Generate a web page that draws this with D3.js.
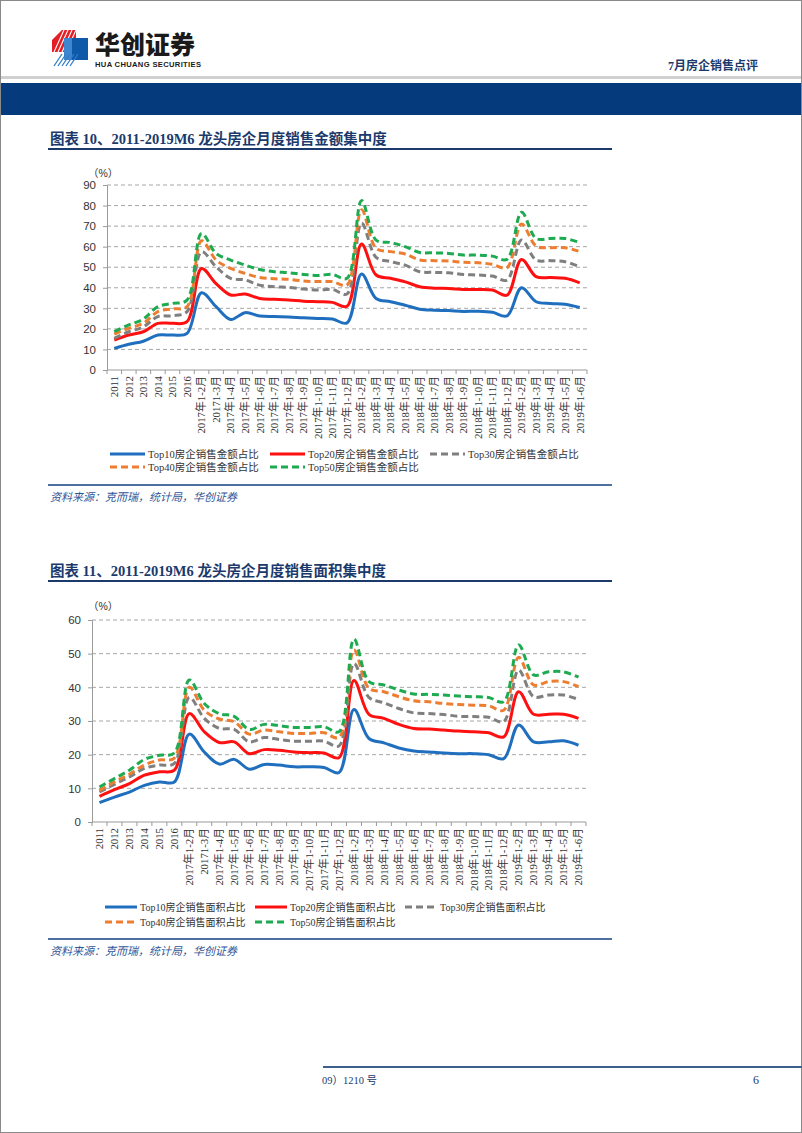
<!DOCTYPE html>
<html><head><meta charset="utf-8">
<script src="https://cdn.jsdelivr.net/npm/d3@7"></script>
<style>
html,body{margin:0;padding:0;background:#fff;}
svg{display:block;}
</style></head>
<body>
<svg id="page" width="802" height="1133"></svg>
<script>
// ---------- DATA ----------
const categories = ["2011","2012","2013","2014","2015","2016",
 "2017年1-2月","20171-3月","2017年1-4月","2017年1-5月","2017年1-6月","2017年1-7月","2017年1-8月","2017年1-9月","2017年1-10月","2017年1-11月","2017年1-12月",
 "2018年1-2月","2018年1-3月","2018年1-4月","2018年1-5月","2018年1-6月","2018年1-7月","2018年1-8月","2018年1-9月","2018年1-10月","2018年1-11月","2018年1-12月",
 "2019年1-2月","2019年1-3月","2019年1-4月","2019年1-5月","2019年1-6月"];

const amtTop10 = [10.5,12.5,14,17,17,17.8,37.6,30.8,24.6,27.9,26.3,26,25.8,25.4,25.1,24.8,22.9,46.7,34.8,33.2,31.5,29.6,29.1,28.9,28.5,28.6,28.1,26.3,40,33.2,32.4,32,30.4];
const amtTop20 = [14.6,17,18.6,22.7,22.7,23.5,49.4,42,36.5,37,34.8,34.4,34,33.5,33.2,32.9,31,61.3,46.2,44.6,42.9,40.5,39.8,39.7,39.2,39.2,38.9,36.4,53.8,45.4,45,44.6,42.4];
const amtTop30 = [15.4,18.6,21,26,26.4,28.4,57.5,50.2,44.6,43.8,41.3,40.5,40.2,39.4,38.9,39.2,37,71.4,54.8,52.7,51,47.8,47.5,47.3,46.5,46.2,45.7,43.7,63.2,53.5,53.2,52.7,50.2];
const amtTop40 = [17.5,20.3,22.7,28.4,29.7,30.8,62.9,53.5,49.4,47,45,44.4,44.1,43.3,43,43,41.3,77.9,59.2,57.6,56.4,53.5,53.2,53,52.4,52.2,51.4,49.8,71,60.3,59.5,59.5,57.6];
const amtTop50 = [18.7,21.9,24.8,30.8,32.4,34,66.4,56.7,53.5,51,48.9,47.8,47.3,46.5,46,46.5,44.6,82.4,63.2,62,60,57.2,57,56.7,55.9,55.9,55.4,53.8,76.7,64,64,64,62];

const areaTop10 = [5.75,7.4,8.9,10.9,11.9,11.9,26.1,20.8,17.2,18.6,15.7,17.1,16.9,16.4,16.4,16.2,14.7,33.4,24.8,23.5,22,21.1,20.8,20.5,20.3,20.3,20,18.8,28.8,23.8,23.8,24.1,22.8];
const areaTop20 = [7.6,9.6,11.4,13.9,14.9,15.4,32.2,26.8,23.6,23.8,20.3,21.5,21.3,20.8,20.6,20.5,19.1,42,32,30.8,29,27.8,27.6,27.3,27,26.8,26.5,25.3,38.7,32,32,32,30.8];
const areaTop30 = [8.9,11.2,13.4,15.9,16.9,17.4,37,30.8,27.8,27.5,23.8,25.1,24.5,24,24,24,22.6,47.1,37,35.4,33.7,32.4,32.2,31.9,31.4,31.3,31.1,29.8,45.1,37.2,37.7,37.7,36.4];
const areaTop40 = [9.4,11.9,14.2,16.9,18.4,19,40,33.2,30.6,29.8,26.1,27.3,26.8,26.3,26.3,26.5,25.1,51.1,39.7,38.7,37.2,36,35.7,35.2,34.9,34.7,34.5,33.2,48.9,40.7,41.7,41.7,40.2];
const areaTop50 = [10.4,12.9,15.4,18.6,19.8,20.5,42.2,35.2,32.2,31.4,27.5,29,28.6,28.1,28.1,28.3,26.8,54.3,41.7,40.7,39.2,38,37.9,37.7,37.4,37.2,37,35.7,52.6,43.7,44.6,44.6,43];

const amtNames = ["Top10房企销售金额占比","Top20房企销售金额占比","Top30房企销售金额占比","Top40房企销售金额占比","Top50房企销售金额占比"];
const areaNames = ["Top10房企销售面积占比","Top20房企销售面积占比","Top30房企销售面积占比","Top40房企销售面积占比","Top50房企销售面积占比"];
const amtTicks = [0,10,20,30,40,50,60,70,80,90];
const areaTicks = [0,10,20,30,40,50,60];

// ---------- STYLE ----------
const colors = ["#1f6fbe","#ff1010","#7f7f7f","#ed7d31","#1eaa50"];
const dashed = [false,false,true,true,true];
const serif = "'Liberation Serif','Noto Sans CJK SC',serif";
const sans = "'Liberation Sans','Noto Sans CJK SC',sans-serif";
const navy = "#1b3a6b";

const svg = d3.select("#page");

// page border
svg.append("rect").attr("x",0.5).attr("y",0.5).attr("width",801).attr("height",1132)
  .attr("fill","none").attr("stroke","#8a8a8a").attr("stroke-width",1);

// ---------- HEADER ----------
const logo = svg.append("g").attr("transform","translate(52,30)");
logo.append("path").attr("d","M10,0 L24,0 L24,22 L0,22 L0,10 Z").attr("fill","#e31e24");
for(let i=0;i<6;i++){
  logo.append("line").attr("x1",2+i*4).attr("y1",22).attr("x2",12+i*4).attr("y2",0)
    .attr("stroke","#fff").attr("stroke-width",1.1);
}
logo.append("rect").attr("x",12).attr("y",8).attr("width",24).attr("height",22).attr("fill","#0f5aa8");
logo.append("rect").attr("x",12).attr("y",8).attr("width",8).attr("height",22).attr("fill","#3e86d0");
for(let i=0;i<5;i++){
  logo.append("line").attr("x1",2+i*4).attr("y1",36).attr("x2",10+i*4).attr("y2",24)
    .attr("stroke","#2f7ccc").attr("stroke-width",1.3);
}
svg.append("text").attr("x",95).attr("y",54).attr("font-family","'Noto Sans CJK SC',sans-serif")
  .attr("font-weight",900).attr("font-size",25).attr("fill","#1a1a1a").text("华创证券");
svg.append("text").attr("x",95).attr("y",67).attr("font-family","'Liberation Sans',sans-serif")
  .attr("font-weight","bold").attr("font-size",7.6).attr("fill","#1a1a1a").attr("textLength",106)
  .text("HUA CHUANG SECURITIES");
svg.append("text").attr("x",758).attr("y",70).attr("text-anchor","end").attr("font-family",serif)
  .attr("font-weight","bold").attr("font-size",12).attr("fill",navy).text("7月房企销售点评");
svg.append("rect").attr("x",1).attr("y",76).attr("width",800).attr("height",3).attr("fill","#d0d0d0");
svg.append("rect").attr("x",1).attr("y",83).attr("width",800).attr("height",32).attr("fill","#053a7c");

// ---------- CHART FACTORY ----------
function drawChart(cfg){
  const g = svg.append("g");
  g.append("text").attr("x",50).attr("y",cfg.titleY).attr("font-family",serif).attr("font-weight","bold")
    .attr("font-size",14.5).attr("fill",navy).text(cfg.title);
  g.append("rect").attr("x",48).attr("y",cfg.titleY+4).attr("width",564).attr("height",2).attr("fill",navy);

  const x = d3.scaleBand().domain(categories).range([cfg.x0,cfg.x1]).paddingInner(0).paddingOuter(0);
  const y = d3.scaleLinear().domain([0,cfg.ymax]).range([cfg.y0,cfg.y1]);

  g.append("g").selectAll("line").data(cfg.ticks.filter(d=>d>0)).join("line")
    .attr("x1",cfg.x0).attr("x2",cfg.x1).attr("y1",d=>y(d)).attr("y2",d=>y(d))
    .attr("stroke","#a6a6a6").attr("stroke-width",1).attr("stroke-dasharray","4,3");

  const ya = g.append("g").attr("transform",`translate(${cfg.x0},0)`)
    .call(d3.axisLeft(y).tickValues(cfg.ticks).tickSize(4).tickPadding(7).tickFormat(d3.format("d")));
  ya.select(".domain").attr("stroke","#9a9a9a");
  ya.selectAll(".tick line").attr("stroke","#9a9a9a");
  ya.selectAll(".tick text").attr("font-family",sans).attr("font-size",11.5).attr("fill","#333");

  const xa = g.append("g").attr("transform",`translate(0,${cfg.y0})`);
  xa.append("line").attr("x1",cfg.x0).attr("x2",cfg.x1).attr("y1",0).attr("y2",0).attr("stroke","#9a9a9a");
  const edges = categories.map(c=>x(c)).concat([cfg.x1]);
  xa.selectAll("line.tk").data(edges).join("line").attr("class","tk")
    .attr("x1",d=>d).attr("x2",d=>d).attr("y1",0).attr("y2",4).attr("stroke","#9a9a9a");
  xa.selectAll("text").data(categories).join("text")
    .attr("transform",d=>`translate(${x(d)+x.bandwidth()/2},6) rotate(-90)`)
    .attr("text-anchor","end").attr("dy","0.35em")
    .attr("font-family",serif).attr("font-size",10.8).attr("fill","#333").text(d=>d);

  g.append("text").attr("x",cfg.unitX).attr("y",cfg.unitY).attr("font-family",sans).attr("font-size",10.5)
    .attr("fill","#333").text("（%）");

  const line = d3.line().x((d,i)=>x(categories[i])+x.bandwidth()/2).y(d=>y(d)).curve(d3.curveCatmullRom.alpha(0.5));
  [0,1,2,3,4].forEach(k=>{
    g.append("path").datum(cfg.series[k]).attr("d",line).attr("fill","none")
      .attr("stroke",colors[k]).attr("stroke-width",3)
      .attr("stroke-dasharray",dashed[k]?"7,4":null).attr("stroke-linejoin","round");
  });

  cfg.legend.forEach((p,k)=>{
    g.append("line").attr("x1",p[0]).attr("x2",p[0]+cfg.legLen).attr("y1",p[1]).attr("y2",p[1])
      .attr("stroke",colors[k]).attr("stroke-width",3).attr("stroke-dasharray",dashed[k]?"7,4":null);
    g.append("text").attr("x",p[0]+cfg.legLen+3).attr("y",p[1]).attr("dy","0.35em")
      .attr("font-family",serif).attr("font-size",cfg.legFont).attr("fill","#333").text(cfg.names[k]);
  });

  g.append("rect").attr("x",48).attr("y",cfg.sepY).attr("width",564).attr("height",2).attr("fill","#4f6f9f");
  g.append("text").attr("x",50).attr("y",cfg.sepY+17).attr("font-family",serif).attr("font-style","italic")
    .attr("font-size",11).attr("fill","#2f5597").text("资料来源：克而瑞，统计局，华创证券");
}

drawChart({
  title:"图表 10、2011-2019M6 龙头房企月度销售金额集中度", titleY:144,
  x0:107, x1:587, y0:370, y1:185, ymax:90, ticks:amtTicks,
  unitX:88, unitY:177,
  series:[amtTop10,amtTop20,amtTop30,amtTop40,amtTop50], names:amtNames,
  legend:[[110,454],[270,454],[430,454],[110,467],[270,467]], legLen:35, legFont:10.5,
  sepY:484
});

drawChart({
  title:"图表 11、2011-2019M6 龙头房企月度销售面积集中度", titleY:576,
  x0:92, x1:586, y0:822, y1:620, ymax:60, ticks:areaTicks,
  unitX:88, unitY:610,
  series:[areaTop10,areaTop20,areaTop30,areaTop40,areaTop50], names:areaNames,
  legend:[[105,907],[255,907],[405,907],[105,922],[255,922]], legLen:32, legFont:10,
  sepY:938
});

// ---------- FOOTER ----------
svg.append("rect").attr("x",323).attr("y",1066).attr("width",479).attr("height",2).attr("fill","#3d5f8c");
svg.append("text").attr("x",322).attr("y",1084).attr("font-family",serif).attr("font-size",10.5)
  .attr("fill","#1b3a6b").text("09）1210 号");
svg.append("text").attr("x",753).attr("y",1084).attr("font-family",serif).attr("font-size",12)
  .attr("fill","#1b3a6b").text("6");
</script>
</body></html>
